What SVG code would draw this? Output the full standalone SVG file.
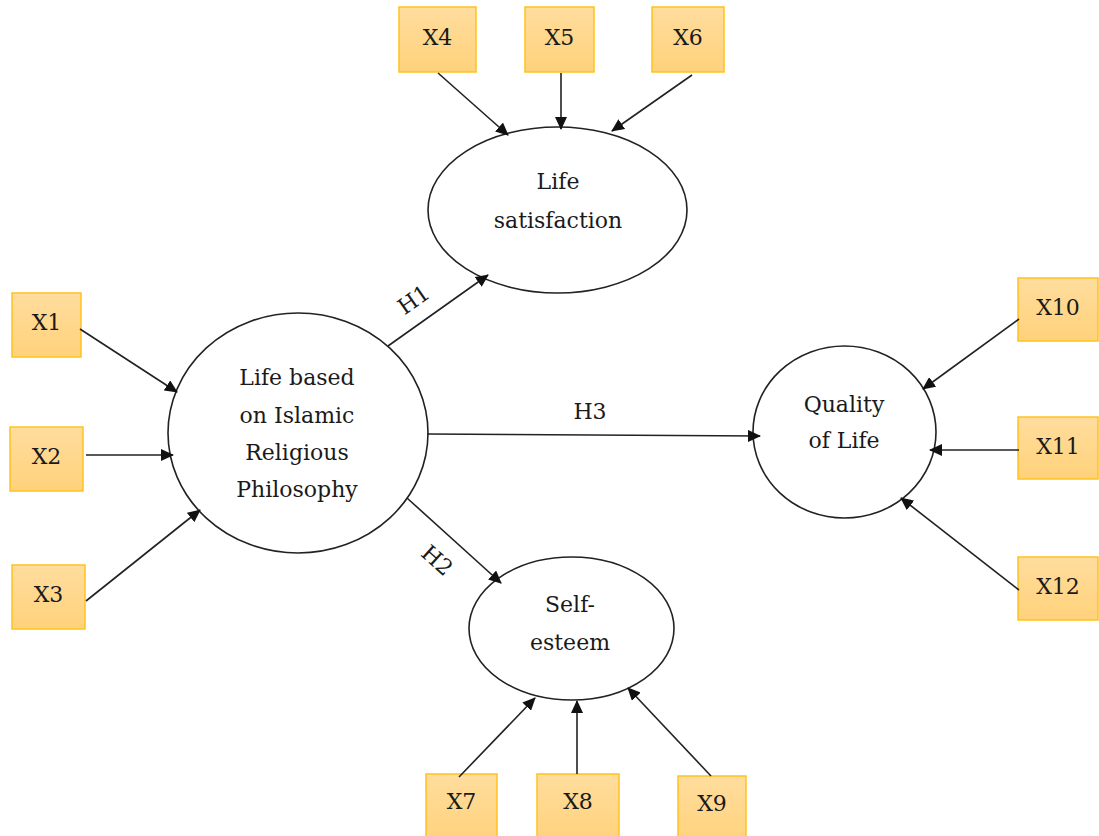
<svg xmlns="http://www.w3.org/2000/svg" width="1099" height="836" viewBox="0 0 1099 836">
<defs>
<linearGradient id="boxg" x1="0" y1="0" x2="0" y2="1">
<stop offset="0" stop-color="#FFDD9E"/>
<stop offset="1" stop-color="#FFD27B"/>
</linearGradient>
<marker id="ah" markerUnits="userSpaceOnUse" markerWidth="13" markerHeight="12" refX="12" refY="6" orient="auto" viewBox="0 0 13 12">
<path d="M0,0 L13,6 L0,12 z" fill="#111"/>
</marker>
<style>
.box{fill:url(#boxg);stroke:#FFC21E;stroke-width:1.5}
.lat{fill:#fff;stroke:#222;stroke-width:1.6}
.t{font-family:"DejaVu Serif","Liberation Serif",serif;font-size:22px;fill:#1a1a1a;text-anchor:middle}
.c line{stroke:#222;stroke-width:1.6;marker-end:url(#ah)}
</style>
</defs>
<rect width="1099" height="836" fill="#fff"/>

<g id="life-satisfaction">
<ellipse class="lat" cx="557.5" cy="210" rx="129.5" ry="83"/>
<text class="t" x="558" y="189">Life</text>
<text class="t" x="558" y="228">satisfaction</text>
</g>
<g id="life-islamic">
<ellipse class="lat" cx="298" cy="433" rx="130" ry="120"/>
<text class="t" x="297" y="385">Life based</text>
<text class="t" x="297" y="423">on Islamic</text>
<text class="t" x="297" y="460">Religious</text>
<text class="t" x="297" y="497">Philosophy</text>
</g>
<g id="quality-of-life">
<ellipse class="lat" cx="844.5" cy="432" rx="91.5" ry="86"/>
<text class="t" x="844" y="412">Quality</text>
<text class="t" x="844" y="448">of Life</text>
</g>
<g id="self-esteem">
<ellipse class="lat" cx="571.5" cy="628.5" rx="102.5" ry="71.5"/>
<text class="t" x="570" y="612">Self-</text>
<text class="t" x="570" y="650">esteem</text>
</g>

<g id="x1"><rect class="box" x="12" y="293" width="69" height="64"/><text class="t" x="46.5" y="330">X1</text></g>
<g id="x2"><rect class="box" x="10" y="427" width="73" height="64"/><text class="t" x="46.5" y="464">X2</text></g>
<g id="x3"><rect class="box" x="12" y="565" width="73" height="64"/><text class="t" x="48.5" y="602">X3</text></g>
<g id="x4"><rect class="box" x="399" y="7" width="77" height="65"/><text class="t" x="437.5" y="45">X4</text></g>
<g id="x5"><rect class="box" x="525" y="7" width="69" height="65"/><text class="t" x="559.5" y="45">X5</text></g>
<g id="x6"><rect class="box" x="652" y="7" width="72" height="65"/><text class="t" x="688" y="45">X6</text></g>
<g id="x7"><rect class="box" x="426" y="774" width="71" height="70"/><text class="t" x="461.5" y="809">X7</text></g>
<g id="x8"><rect class="box" x="537" y="774" width="82" height="70"/><text class="t" x="578" y="809">X8</text></g>
<g id="x9"><rect class="box" x="678" y="776" width="68" height="70"/><text class="t" x="712" y="811">X9</text></g>
<g id="x10"><rect class="box" x="1018" y="278" width="80" height="63"/><text class="t" x="1058" y="315">X10</text></g>
<g id="x11"><rect class="box" x="1018" y="417" width="80" height="62"/><text class="t" x="1058" y="454">X11</text></g>
<g id="x12"><rect class="box" x="1018" y="557" width="80" height="63"/><text class="t" x="1058" y="594">X12</text></g>

<g id="connectors" class="c">
<line x1="438" y1="73" x2="508" y2="135"/>
<line x1="561" y1="73" x2="561" y2="129"/>
<line x1="692" y1="75" x2="612" y2="131"/>
<line x1="80" y1="329" x2="177" y2="392"/>
<line x1="86" y1="455" x2="173" y2="455"/>
<line x1="86" y1="601" x2="200" y2="510"/>
<line x1="1019" y1="319" x2="923" y2="389"/>
<line x1="1019" y1="450" x2="930" y2="450"/>
<line x1="1019" y1="590" x2="901" y2="498"/>
<line x1="459" y1="777" x2="535" y2="698"/>
<line x1="577" y1="774" x2="577" y2="701"/>
<line x1="711" y1="776" x2="628" y2="688"/>
<line x1="388" y1="346" x2="488" y2="275"/>
<line x1="407" y1="498" x2="501" y2="583"/>
<line x1="427" y1="434" x2="760" y2="436"/>
</g>
<g id="edge-labels">
<text class="t" transform="translate(418,306) rotate(-35)">H1</text>
<text class="t" transform="translate(432,566) rotate(42)">H2</text>
<text class="t" x="590" y="419">H3</text>
</g>
</svg>
